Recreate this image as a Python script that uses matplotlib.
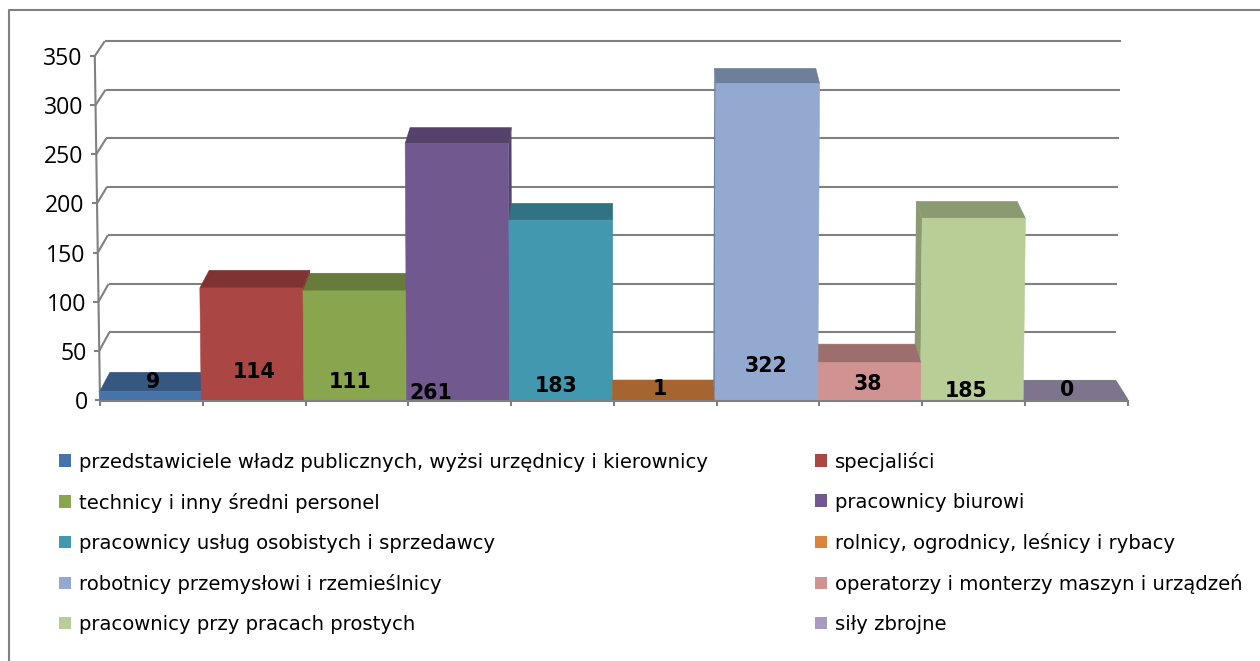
import matplotlib
matplotlib.use("Agg")
import matplotlib.pyplot as plt
from matplotlib.lines import Line2D
from matplotlib.patches import Patch, Polygon
from matplotlib.transforms import ScaledTranslation

# ---- data ----
categories = [
    "przedstawiciele władz publicznych, wyżsi urzędnicy i kierownicy",
    "specjaliści",
    "technicy i inny średni personel",
    "pracownicy biurowi",
    "pracownicy usług osobistych i sprzedawcy",
    "rolnicy, ogrodnicy, leśnicy i rybacy",
    "robotnicy przemysłowi i rzemieślnicy",
    "operatorzy i monterzy maszyn i urządzeń",
    "pracownicy przy pracach prostych",
    "siły zbrojne",
]
values = [9, 114, 111, 261, 183, 1, 322, 38, 185, 0]
y_ticks = [0, 50, 100, 150, 200, 250, 300, 350]

# ---- styles ----
front_colors = ["#4674AA", "#AA4644", "#89A54E", "#71588F", "#4298AF",
                "#A66430", "#94A9CF", "#D19392", "#B9CD96", "#7F748E"]
top_colors = ["#355780", "#7F3433", "#677B3A", "#55426B", "#317283",
              "#A66430", "#6E7F9B", "#9C6E6D", "#8B9A70", "#7F748E"]
legend_colors = ["#4674AA", "#AA4644", "#89A54E", "#71588F", "#4298AF",
                 "#DB843D", "#94A9CF", "#D19392", "#B9CD96", "#A99BBD"]
label_px = [(153, 382), (254, 372), (350, 382), (431, 393), (556, 386),
            (660, 389), (766, 366), (868, 384), (966, 391), (1067, 390)]
GRAY = "#808080"
W, H = 1260, 661
FONT = "Open Sans"

fig = plt.figure(figsize=(W / 100, H / 100), dpi=100)
fig.patch.set_facecolor("white")
fig.add_artist(Line2D([9 / W, 9 / W, 1 / 1], [0, 1 - 10 / H, 1 - 10 / H],
                      transform=fig.transFigure, color=GRAY, lw=1.5))

# axes: x = 0..10 categories -> px 100..1127.5, y = 0..350 -> px 400..56
ax = fig.add_axes([100 / W, 1 - 400 / H, 1027.5 / W, 344 / H])
ax.set_xlim(0, 10)
ax.set_ylim(0, 350)
ax.patch.set_visible(False)
for s in ax.spines.values():
    s.set_visible(False)


def front(x, v):
    return (x + (x - 5.0) * 2.9e-5 * v, v)


def back(x, v):
    bx = x + (4.55 - x) * 0.0214
    return (bx + (x - 5.0) * 2.9e-5 * v, 19.3 + 0.988 * v)


def line(p, q, **kw):
    ax.plot([p[0], q[0]], [p[1], q[1]], color=GRAY, lw=1.5, clip_on=False,
            solid_capstyle="butt", **kw)


# gridlines on back wall, left wall edges, tick marks
for v in y_ticks:
    line(back(0, v), back(10, v), zorder=1)
    f = front(0, v)
    line(f, back(0, v), zorder=1)
    line(f, (f[0] - 0.05, v), zorder=1)
line(front(0, 350), front(0, 0), zorder=1)
line(front(10, 0), back(10, 0), zorder=1)
line((0, -1.5), (10, -1.5), zorder=100)
ax.set_xticks(range(11), [""] * 11)
ax.tick_params(axis="x", length=4.5, width=1.5, color=GRAY, pad=0)
ax.set_yticks(y_ticks, [str(v) for v in y_ticks], fontsize=16.6, family=FONT, color="black")
ax.tick_params(axis="y", length=0, pad=0)
for v, tl in zip(y_ticks, ax.get_yticklabels()):
    dx = -(12 + 0.0172 * v) / 100
    tl.set_transform(tl.get_transform() + ScaledTranslation(dx, 0, fig.dpi_scale_trans))

# bars: drawn from outside towards the point of view
BAR_SHIFT = -0.015
order = [0, 1, 2, 3, 4, 5, 9, 8, 7, 6]
z = 5
for i in order:
    v = values[i]
    s0 = BAR_SHIFT if i > 0 else 0
    s1 = BAR_SHIFT if i < 9 else 0
    fl = front(i + s0, v)
    fr = front(i + 1 + s1, v)
    ax.add_patch(Polygon([front(i + s0, 0), front(i + 1 + s1, 0), fr, fl], closed=True,
                         facecolor=front_colors[i], edgecolor=front_colors[i], lw=0.4,
                         zorder=z + 2, clip_on=False))
    bl, br = back(i, v), back(i + 1, v)
    ax.add_patch(Polygon([fl, fr, br, bl], closed=True, facecolor=top_colors[i],
                         edgecolor=top_colors[i], lw=0.4, zorder=z + 1, clip_on=False))
    # visible side wall
    if i < 5:
        side = [fr, br, back(i + 1, 0), front(i + 1 + s1, 0)]
    else:
        side = [fl, bl, back(i, 0), front(i + s0, 0)]
    ax.add_patch(Polygon(side, closed=True, facecolor=top_colors[i], edgecolor="none",
                         zorder=z, clip_on=False))
    z += 3

# data labels
for v, (px, py) in zip(values, label_px):
    fig.text(px / W, 1 - py / H, str(v), ha="center", va="center", fontsize=14.8,
             fontweight="bold", family="DejaVu Sans", color="black", zorder=50)

# legend: row-wise order of the reference, column-wise for matplotlib
handles = [Patch(facecolor=legend_colors[i], edgecolor="none", label=categories[i]) for i in range(10)]
idx = [0, 2, 4, 6, 8, 1, 3, 5, 7, 9]
fig.legend([handles[i] for i in idx], [categories[i] for i in idx], ncol=2,
           loc="upper left", bbox_to_anchor=(59 / W, 1 - 451.5 / H), frameon=False,
           prop={"family": "DejaVu Sans", "size": 14.1}, handlelength=0.61, handleheight=0.61,
           handletextpad=0.42, columnspacing=5.46, labelspacing=1.08,
           borderpad=0, borderaxespad=0)

fig.savefig("out.png", dpi=100)
